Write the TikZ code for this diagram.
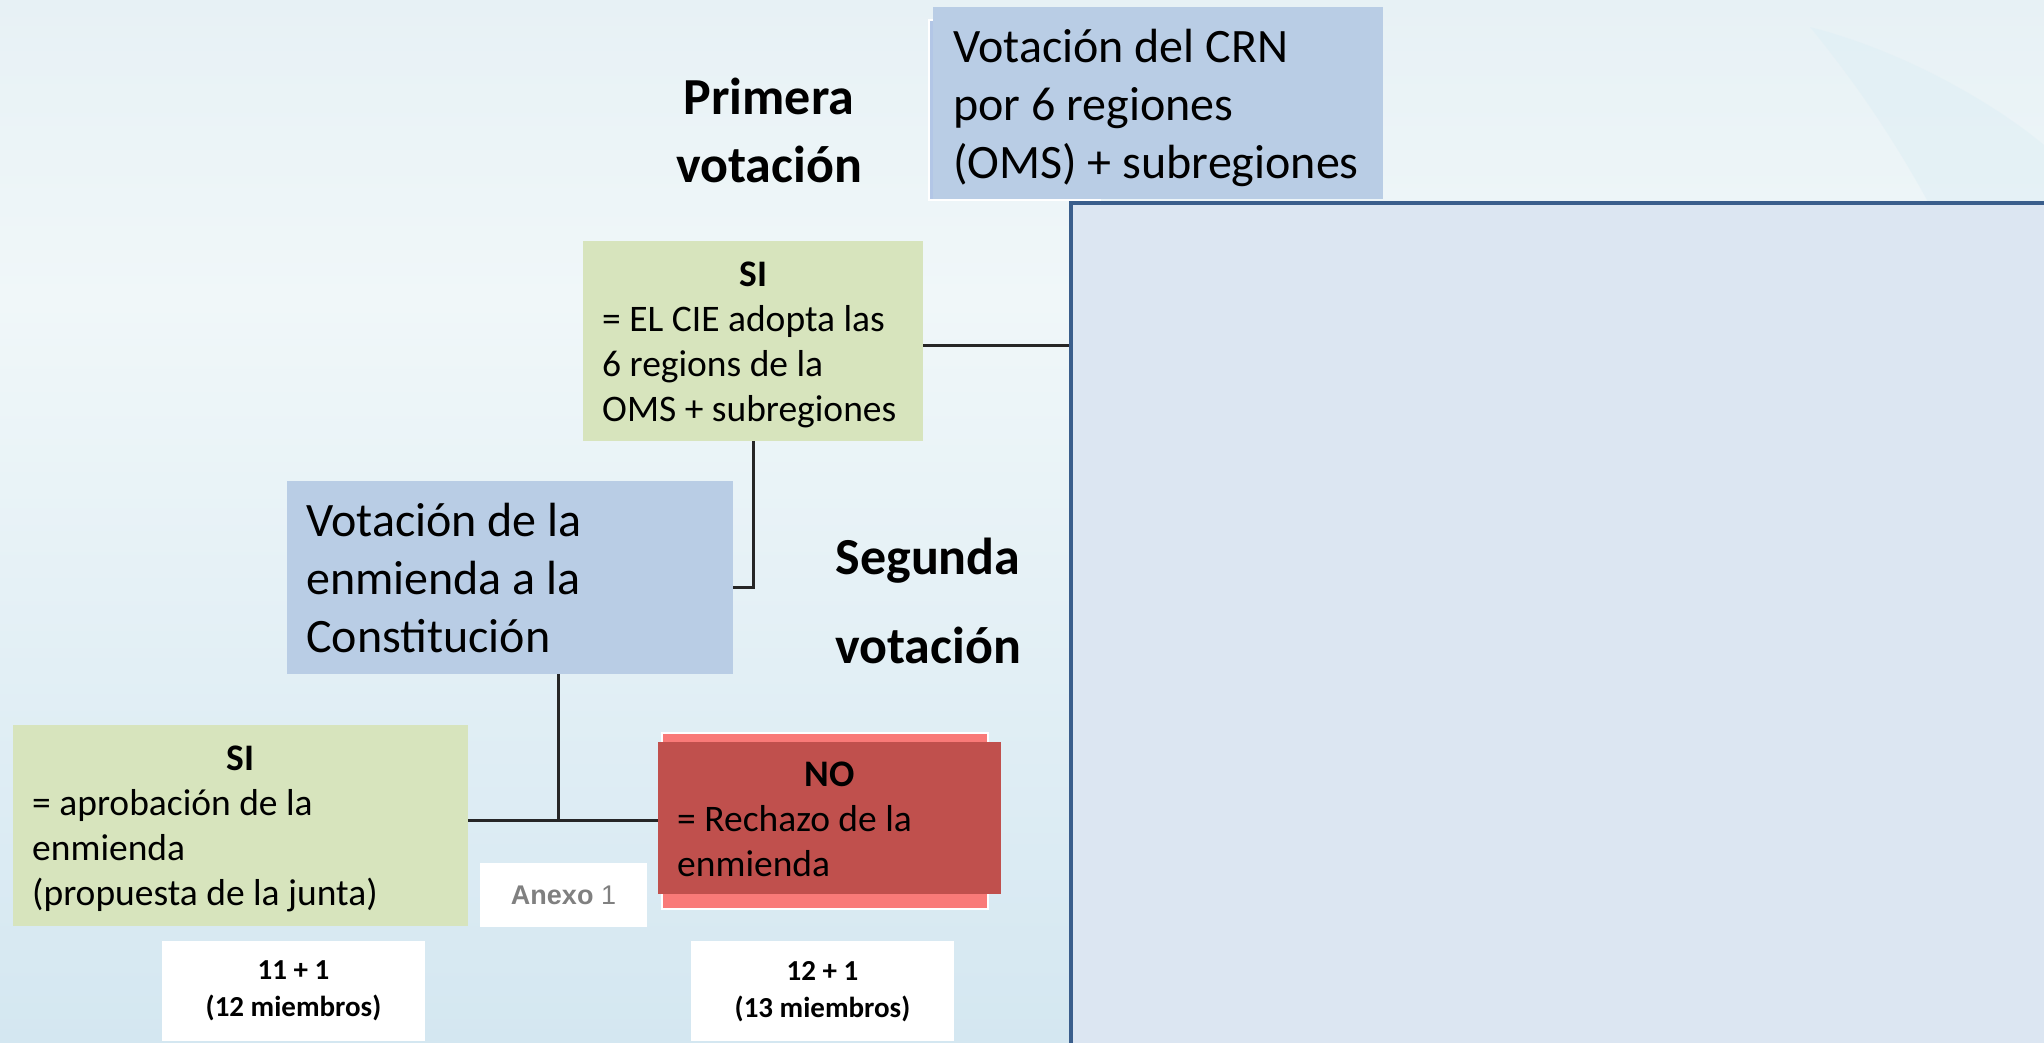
\documentclass[tikz,border=0pt]{standalone}
\usepackage{fontspec}
\setmainfont{Carlito}
\newfontfamily\anexofont{Liberation Sans}
\usepackage{xcolor}
\usepackage{tikz}
\usetikzlibrary{positioning,calc}

\definecolor{fondoTop}{RGB}{231,241,245}
\definecolor{fondoMid}{RGB}{240,247,249}
\definecolor{fondoBot}{RGB}{212,231,241}
\definecolor{azulCaja}{RGB}{185,205,229}
\definecolor{azulCapa}{RGB}{178,198,230}
\definecolor{verdeCaja}{RGB}{215,228,189}
\definecolor{rojoCaja}{RGB}{192,80,77}
\definecolor{rosaCapa}{RGB}{249,122,120}
\definecolor{panelFill}{RGB}{220,230,242}
\definecolor{panelLine}{RGB}{58,94,140}
\definecolor{lineaGris}{RGB}{38,38,38}
\definecolor{swoosh}{RGB}{222,239,245}

% first-line strut: pushes a centred text block down by half of #1
\newcommand{\bajar}[1]{\rule{0pt}{\dimexpr\fontcharht\font`\l+#1\relax}}

\begin{document}
\begin{tikzpicture}[
    x=1pt, y=-1pt,
    bigbox/.style={anchor=north west, fill=azulCaja, inner xsep=20pt, inner ysep=0pt,
                   align=flush left, font=\fontsize{48}{58}\selectfont},
    votebox/.style={anchor=north west, inner xsep=19pt, inner ysep=0pt,
                    align=flush left, font=\fontsize{37.5}{45}\selectfont},
    heading/.style={align=center, font=\fontsize{52}{68}\selectfont\bfseries},
    countbox/.style={anchor=north, fill=white, minimum width=263pt, minimum height=100pt,
                     align=center, font=\fontsize{29}{37}\selectfont\bfseries},
    capa/.style={draw=white, line width=1.5pt},
    link/.style={draw=lineaGris, line width=3pt}
  ]

  \useasboundingbox (0,0) rectangle (2044,1042);
  \clip (0,0) rectangle (2044,1042);

  % --- background ---
  \shade[top color=fondoTop, bottom color=fondoMid] (0,0) rectangle (2044,300);
  \shade[top color=fondoMid, bottom color=fondoBot] (0,299) rectangle (2044,1042);
  \fill[swoosh, opacity=0.5] (1810,27) .. controls (1900,50) and (1990,100) .. (2044,145)
       -- (2044,215) -- (1935,215) .. controls (1890,130) and (1845,70) .. (1810,27);

  % --- right panel ---
  \node[anchor=north west, fill=panelFill, draw=panelLine, line width=4pt,
        minimum width=1050pt, minimum height=900pt] (panel) at (1069,201) {};

  % --- first vote ---
  \fill[azulCapa, capa] (929,20) rectangle (1100,200);
  \node[bigbox, minimum width=450pt, minimum height=192pt, text width=410pt] (crn) at (933,7)
       {\bajar{9pt}Votación del CRN\\por 6 regiones\\(OMS) + subregiones};
  \node[heading] (primera) at (769,130) {Primera\\votación};

  \node[votebox, fill=verdeCaja, minimum width=340pt, minimum height=200pt, text width=302pt]
       (siCie) at (583,241)
       {\bajar{5pt}\hspace*{\fill}\textbf{SI}\hspace*{\fill}\null\\= EL CIE adopta las\\6 regions de la\\OMS + subregiones};

  % --- second vote ---
  \node[bigbox, inner xsep=19pt, minimum width=446pt, minimum height=193pt, text width=408pt]
       (enmienda) at (287,481)
       {Votación de la\\enmienda a la\\Constitución};
  \node[heading, font=\fontsize{52}{89}\selectfont\bfseries] (segunda) at (928,601)
       {Segunda\\votación};

  \node[votebox, fill=verdeCaja, minimum width=455pt, minimum height=201pt, text width=417pt]
       (siApr) at (13,725)
       {\bajar{5pt}\hspace*{\fill}\textbf{SI}\hspace*{\fill}\null\\= aprobación de la\\enmienda\\(propuesta de la junta)};

  \fill[rosaCapa, capa] (662,733) rectangle (988,909);
  \node[votebox, fill=rojoCaja, minimum width=343pt, minimum height=152pt, text width=305pt]
       (noRech) at (658,742)
       {\bajar{1pt}\hspace*{\fill}\textbf{NO}\hspace*{\fill}\null\\= Rechazo de la\\enmienda};

  \node[fill=white, minimum width=167pt, minimum height=64pt, text=black!50,
        font=\fontsize{27}{30}\selectfont\anexofont] (anexo) at (563.5,895)
       {\textbf{Anexo} 1};

  \node[countbox] (cuentaSi) at (293.5,941) {11 + 1\\(12 miembros)};
  \node[countbox] (cuentaNo) at (822.5,941) {12 + 1\\(13 miembros)};

  % --- connectors ---
  \coordinate (junta) at (558,820);
  \draw[link] ([yshift=-4pt]siCie.east) -- ([yshift=-4pt]siCie.east -| panel.west);
  \draw[link] (siCie.south) |- ([yshift=-10pt]enmienda.east);
  \draw[link] (enmienda.south -| junta) -- (junta);
  \draw[link] (siApr.east |- junta) -- (noRech.west |- junta);

\end{tikzpicture}
\end{document}
